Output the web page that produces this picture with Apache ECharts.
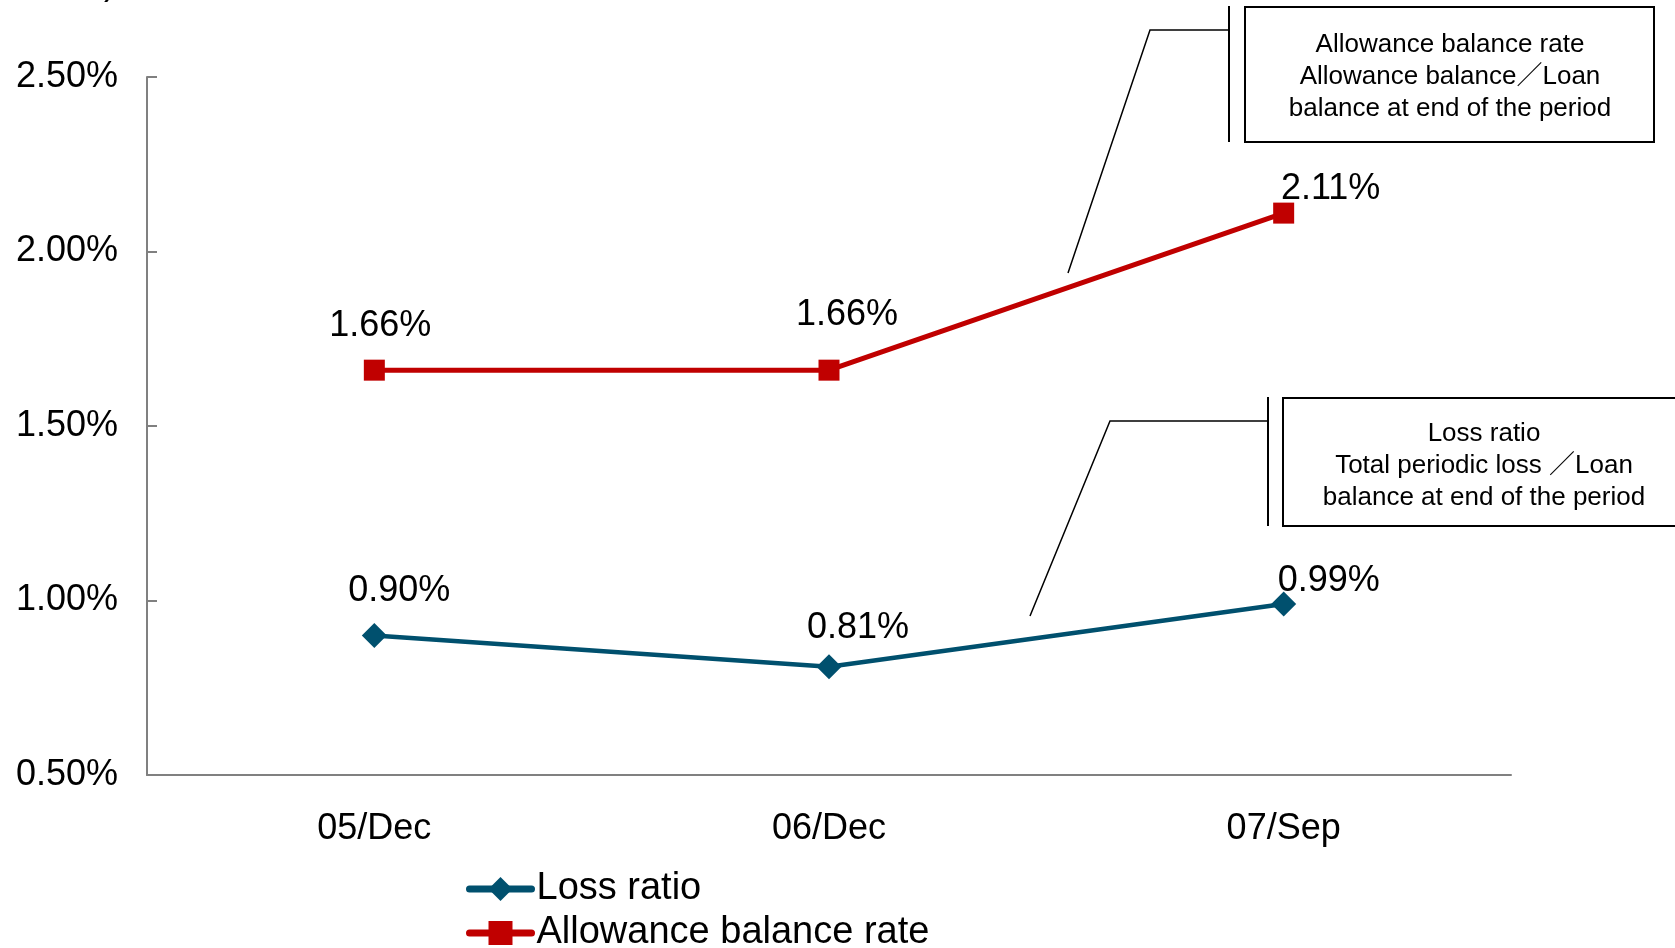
<!DOCTYPE html>
<html>
<head>
<meta charset="utf-8">
<script src="https://cdn.jsdelivr.net/npm/echarts@6/dist/echarts.min.js"></script>
<style>
html,body{margin:0;padding:0;background:#fff;}
#chart{width:1675px;height:948px;}
</style>
</head>
<body>
<div id="chart"></div>
<script>
const categories = ['05/Dec', '06/Dec', '07/Sep'];
const lossRatio = [0.90, 0.81, 0.99];
const allowanceRate = [1.66, 1.66, 2.11];
const yTicks = [0.5, 1.0, 1.5, 2.0, 2.5];
const seriesNames = ['Loss ratio', 'Allowance balance rate'];
const note1 = ['Allowance balance rate', 'Allowance balance／Loan', 'balance at end of the period'];
const note2 = ['Loss ratio', 'Total periodic loss ／Loan', 'balance at end of the period'];

const FONT = '"Liberation Sans", Arial, "Noto Sans CJK JP", sans-serif';
// label offsets (style, relative to each marker centre)
const lossOffsets = [[25, -44], [29, -39], [45, -23]];
const allowOffsets = [[6, -44], [18, -55], [47, -24]];

function withLabels(values, offsets) {
  return values.map((v, i) => ({
    value: v,
    label: { offset: offsets[i] }
  }));
}
const pct = v => v.toFixed(2) + '%';

const legendCommon = {
  orient: 'horizontal',
  left: 461,
  itemWidth: 62,
  itemHeight: 30,
  itemGap: 0,
  textStyle: { fontSize: 38, color: '#000', fontFamily: FONT },
  lineStyle: { width: 7, cap: 'round' }
};

const chart = echarts.init(document.getElementById('chart'));
chart.setOption({
  animation: false,
  backgroundColor: '#ffffff',
  textStyle: { fontFamily: FONT },
  grid: { left: 147, right: 164, top: 77, bottom: 173, containLabel: false },
  legend: [
    Object.assign({}, legendCommon, { data: [seriesNames[0]], top: 865 }),
    Object.assign({}, legendCommon, { data: [seriesNames[1]], top: 909 })
  ],
  xAxis: {
    type: 'category',
    data: categories,
    boundaryGap: true,
    axisLine: { lineStyle: { color: '#808080', width: 2 } },
    axisTick: { inside: true, length: 10, lineStyle: { color: '#808080', width: 2 } },
    axisLabel: { fontSize: 36, color: '#000', margin: 36, fontFamily: FONT },
    splitLine: { show: false }
  },
  yAxis: {
    type: 'value',
    min: yTicks[0],
    max: yTicks[yTicks.length - 1],
    interval: yTicks[1] - yTicks[0],
    axisLine: { show: true, lineStyle: { color: '#808080', width: 2 } },
    axisTick: { show: true, inside: true, length: 10, lineStyle: { color: '#808080', width: 2 } },
    axisLabel: { fontSize: 36, color: '#000', margin: 29, fontFamily: FONT, formatter: pct },
    splitLine: { show: false }
  },
  series: [
    {
      name: seriesNames[0],
      type: 'line',
      data: withLabels(lossRatio, lossOffsets),
      symbol: 'diamond',
      symbolSize: 25,
      lineStyle: { color: '#00506E', width: 4.5 },
      itemStyle: { color: '#00506E' },
      label: {
        show: true, position: 'inside', color: '#000', fontSize: 36, fontFamily: FONT,
        formatter: p => pct(p.value)
      }
    },
    {
      name: seriesNames[1],
      type: 'line',
      data: withLabels(allowanceRate, allowOffsets),
      symbol: 'rect',
      symbolSize: 21,
      lineStyle: { color: '#C00000', width: 5 },
      itemStyle: { color: '#C00000' },
      label: {
        show: true, position: 'inside', color: '#000', fontSize: 36, fontFamily: FONT,
        formatter: p => pct(p.value)
      }
    }
  ],
  graphic: [
    // top-left fragment
    { type: 'text', left: 104, top: -34, style: { text: ')', fontSize: 36, fontFamily: FONT, fill: '#000' } },
    // annotation 1
    { type: 'polyline', shape: { points: [[1228, 30], [1150, 30], [1068, 273]] }, style: { stroke: '#000', lineWidth: 1.5, fill: null } },
    { type: 'line', shape: { x1: 1229, y1: 6, x2: 1229, y2: 142 }, style: { stroke: '#000', lineWidth: 2 } },
    { type: 'rect', shape: { x: 1245, y: 7, width: 409, height: 135 }, style: { stroke: '#000', lineWidth: 2, fill: '#fff' } },
    { type: 'text', x: 1450, y: 77, style: { text: note1.join('\n'), fontSize: 26, lineHeight: 32, fontFamily: FONT, fill: '#000', align: 'center', verticalAlign: 'middle' } },
    // annotation 2
    { type: 'polyline', shape: { points: [[1268, 421], [1110, 421], [1030, 616]] }, style: { stroke: '#000', lineWidth: 1.5, fill: null } },
    { type: 'line', shape: { x1: 1268, y1: 397, x2: 1268, y2: 526 }, style: { stroke: '#000', lineWidth: 2 } },
    { type: 'rect', shape: { x: 1283, y: 398, width: 410, height: 128 }, style: { stroke: '#000', lineWidth: 2, fill: '#fff' } },
    { type: 'text', x: 1484, y: 466, style: { text: note2.join('\n'), fontSize: 26, lineHeight: 32, fontFamily: FONT, fill: '#000', align: 'center', verticalAlign: 'middle' } }
  ]
});
</script>
</body>
</html>
